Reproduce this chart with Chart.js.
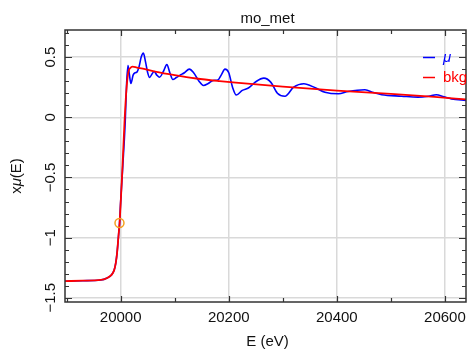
<!DOCTYPE html>
<html>
<head>
<meta charset="utf-8">
<script src="https://cdn.jsdelivr.net/npm/chart.js@4.4.0/dist/chart.umd.min.js"></script>
<style>
  html, body { margin: 0; padding: 0; background: #fff; }
</style>
</head>
<body>
<canvas id="chart" width="472" height="349"></canvas>
<script>
// mu(E) and background
const muEnergy = [19897, 19930, 19963, 19975, 19983, 19988, 19991, 19993.5, 19996.3, 19998, 19999.5,
  20004, 20008.5, 20011, 20013.5, 20016, 20019, 20023, 20027, 20030, 20034, 20038, 20042, 20046,
  20050, 20053.5, 20058, 20062, 20067, 20072, 20079, 20085.5, 20091, 20096.5, 20103, 20110, 20118,
  20127, 20135, 20145, 20153, 20162, 20171, 20180, 20186, 20193, 20200, 20207, 20214, 20225, 20237,
  20250, 20265, 20278, 20290, 20304, 20320, 20339, 20360, 20378, 20403, 20421, 20452, 20468, 20483,
  20520, 20550, 20570, 20584, 20598, 20612, 20639];
const muValues = [-1.362, -1.358, -1.352, -1.335, -1.31, -1.27, -1.21, -1.12, -0.97, -0.88, -0.74,
  -0.40, -0.03, 0.28, 0.43, 0.36, 0.28, 0.35, 0.37, 0.375, 0.42, 0.50, 0.533, 0.46,
  0.37, 0.33, 0.36, 0.38, 0.35, 0.333, 0.38, 0.437, 0.37, 0.314, 0.33, 0.35, 0.37,
  0.40, 0.37, 0.30, 0.264, 0.28, 0.306, 0.31, 0.35, 0.40, 0.37, 0.25, 0.185, 0.223, 0.245,
  0.295, 0.325, 0.29, 0.20, 0.175, 0.25, 0.278, 0.245, 0.208, 0.195, 0.214, 0.228, 0.205, 0.187,
  0.175, 0.167, 0.175, 0.187, 0.17, 0.153, 0.139];

const bkgEnergy = [19897, 19930, 19963, 19975, 19983, 19988, 19991, 19993.5, 19996.3, 19998, 19999.5,
  20003, 20007, 20010.5, 20014, 20018, 20022, 20030, 20045, 20064, 20100, 20140, 20183, 20213,
  20300, 20400, 20500, 20581, 20639];
const bkgValues = [-1.362, -1.358, -1.352, -1.335, -1.31, -1.27, -1.21, -1.12, -0.97, -0.88, -0.76,
  -0.45, -0.05, 0.22, 0.37, 0.41, 0.42, 0.413, 0.40, 0.38, 0.35, 0.322, 0.300, 0.287,
  0.255, 0.222, 0.195, 0.170, 0.148];

// edge energy marker
const e0Energy = [19997.8];
const e0Values = [-0.879];

// axes
const xRange = [19897, 20639];
const yRange = [-1.535, 0.725];
const xMajorTicks = [20000, 20200, 20400, 20600];
const xMinorTicks = [19900, 20100, 20300, 20500];
const yMajorTicks = [-1.5, -1, -0.5, 0, 0.5];
const yMinorTicks = [-1.4, -1.3, -1.2, -1.1, -0.9, -0.8, -0.7, -0.6, -0.4, -0.3, -0.2, -0.1,
  0.1, 0.2, 0.3, 0.4, 0.6, 0.7];

const titleText = 'mo_met';
const xLabel = 'E (eV)';
const legendNames = ['\u03bc', 'bkg'];
const muColor = '#0000ff';
const bkgColor = '#ff0000';
const FONT = '"Liberation Sans", Arial, sans-serif';

function fmt(v) {
  return v < 0 ? '\u2212' + Math.abs(v) : String(v);
}

function pairs(xs, ys) {
  return xs.map((x, i) => ({ x: x, y: ys[i] }));
}

// frame, ticks, labels and legend drawn on top of the chart area
const decorations = {
  id: 'decorations',
  afterDatasetsDraw(chart) {
    const ctx = chart.ctx;
    const a = chart.chartArea;
    const xs = chart.scales.x;
    const ys = chart.scales.y;
    ctx.save();

    // frame
    ctx.strokeStyle = '#333';
    ctx.lineWidth = 1.5;
    ctx.strokeRect(a.left, a.top, a.right - a.left, a.bottom - a.top);

    // inward ticks on all four sides
    ctx.lineWidth = 1.2;
    ctx.beginPath();
    const xt = (list, len) => list.forEach(v => {
      const px = Math.round(xs.getPixelForValue(v)) + 0.5;
      ctx.moveTo(px, a.bottom); ctx.lineTo(px, a.bottom - len);
      ctx.moveTo(px, a.top); ctx.lineTo(px, a.top + len);
    });
    const yt = (list, len) => list.forEach(v => {
      const py = Math.round(ys.getPixelForValue(v)) + 0.5;
      ctx.moveTo(a.left, py); ctx.lineTo(a.left + len, py);
      ctx.moveTo(a.right, py); ctx.lineTo(a.right - len, py);
    });
    xt(xMajorTicks, 6); xt(xMinorTicks, 4);
    yt(yMajorTicks, 7); yt(yMinorTicks, 4);
    ctx.stroke();

    ctx.fillStyle = '#111';
    ctx.font = '15px ' + FONT;

    // x tick labels
    ctx.textAlign = 'center';
    ctx.textBaseline = 'alphabetic';
    xMajorTicks.forEach(v => {
      ctx.fillText(String(v), xs.getPixelForValue(v), 322);
    });

    // y tick labels, rotated
    yMajorTicks.forEach(v => {
      ctx.save();
      ctx.translate(55, ys.getPixelForValue(v));
      ctx.rotate(-Math.PI / 2);
      ctx.fillText(fmt(v), 0, 0);
      ctx.restore();
    });

    // title and x label
    const cx = (a.left + a.right) / 2 + 2;
    ctx.fillText(titleText, cx, 23);
    ctx.fillText(xLabel, cx, 346);

    // y label: x mu(E), mu in italic
    ctx.save();
    ctx.translate(21, 176);
    ctx.rotate(-Math.PI / 2);
    const parts = [['x', '15px ' + FONT], ['\u03bc', 'italic 15px ' + FONT], ['(E)', '15px ' + FONT]];
    let total = 0;
    parts.forEach(p => { ctx.font = p[1]; total += ctx.measureText(p[0]).width; });
    let pos = -total / 2;
    ctx.textAlign = 'left';
    parts.forEach(p => {
      ctx.font = p[1];
      ctx.fillText(p[0], pos, 0);
      pos += ctx.measureText(p[0]).width;
    });
    ctx.restore();

    // legend
    const legend = [[legendNames[0], muColor, 57, 'italic 15px '], [legendNames[1], bkgColor, 77, '15px ']];
    ctx.textAlign = 'left';
    ctx.textBaseline = 'middle';
    legend.forEach(l => {
      ctx.strokeStyle = l[1];
      ctx.lineWidth = 1.5;
      ctx.beginPath();
      ctx.moveTo(423, l[2] + 0.5);
      ctx.lineTo(435, l[2] + 0.5);
      ctx.stroke();
      ctx.fillStyle = l[1];
      ctx.font = l[3] + FONT;
      ctx.fillText(l[0], 443, l[2] + 1);
    });

    ctx.restore();
  }
};

const ctx = document.getElementById('chart').getContext('2d');
new Chart(ctx, {
  type: 'line',
  data: {
    datasets: [
      {
        type: 'scatter',
        data: pairs(e0Energy, e0Values),
        borderColor: '#f5a020',
        backgroundColor: 'rgba(0,0,0,0)',
        pointRadius: 4.5,
        borderWidth: 1.5,
        order: 0
      },
      {
        label: 'bkg',
        data: pairs(bkgEnergy, bkgValues),
        borderColor: bkgColor,
        borderWidth: 1.8,
        pointRadius: 0,
        cubicInterpolationMode: 'monotone',
        order: 1
      },
      {
        label: 'mu',
        data: pairs(muEnergy, muValues),
        borderColor: muColor,
        borderWidth: 1.6,
        pointRadius: 0,
        cubicInterpolationMode: 'monotone',
        order: 2
      }
    ]
  },
  options: {
    responsive: false,
    animation: false,
    devicePixelRatio: 1,
    layout: { padding: { left: 65, top: 30, right: 5, bottom: 47 } },
    plugins: {
      legend: { display: false },
      title: { display: false },
      tooltip: { enabled: false }
    },
    scales: {
      x: {
        type: 'linear',
        min: xRange[0],
        max: xRange[1],
        afterBuildTicks: s => { s.ticks = xMajorTicks.map(v => ({ value: v })); },
        afterFit: s => { s.height = 0; },
        ticks: { display: false },
        grid: { color: '#d9d9d9', lineWidth: 1.5, drawTicks: false },
        border: { display: false }
      },
      y: {
        type: 'linear',
        min: yRange[0],
        max: yRange[1],
        afterBuildTicks: s => { s.ticks = yMajorTicks.map(v => ({ value: v })); },
        afterFit: s => { s.width = 0; },
        ticks: { display: false },
        grid: { color: '#d9d9d9', lineWidth: 1.5, drawTicks: false },
        border: { display: false }
      }
    }
  },
  plugins: [decorations]
});
</script>
</body>
</html>
